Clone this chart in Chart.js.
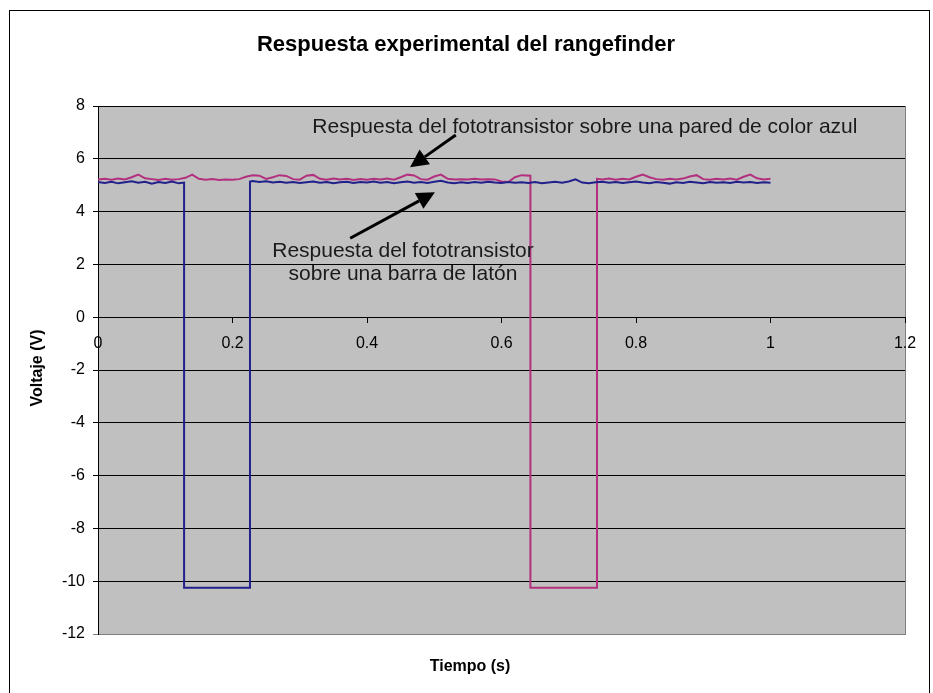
<!DOCTYPE html>
<html>
<head>
<meta charset="utf-8">
<script src="https://cdn.jsdelivr.net/npm/chart.js@4.4.1/dist/chart.umd.min.js"></script>
<style>
  html, body { margin: 0; padding: 0; background: #fff; }
</style>
</head>
<body>
<canvas id="chart" width="933" height="693"></canvas>
<script>
// Time (s) and voltage (V)
const blueTime = [
  0, 0.01, 0.02, 0.03, 0.04, 0.05, 0.06, 0.07, 0.08, 0.09, 0.10, 0.11, 0.12,
  0.128, 0.128, 0.226, 0.226,
  0.23, 0.24, 0.25, 0.26, 0.27, 0.28, 0.29, 0.30, 0.31, 0.32, 0.33, 0.34, 0.35, 0.36, 0.37, 0.38, 0.39,
  0.40, 0.41, 0.42, 0.43, 0.44, 0.45, 0.46, 0.47, 0.48, 0.49, 0.50, 0.51, 0.52, 0.53, 0.54, 0.55, 0.56,
  0.57, 0.58, 0.59, 0.60, 0.61, 0.62, 0.63, 0.64, 0.65, 0.66, 0.67, 0.68, 0.69, 0.70, 0.71, 0.72, 0.73,
  0.74, 0.75, 0.76, 0.77, 0.78, 0.79, 0.80, 0.81, 0.82, 0.83, 0.84, 0.85, 0.86, 0.87, 0.88, 0.89, 0.90,
  0.91, 0.92, 0.93, 0.94, 0.95, 0.96, 0.97, 0.98, 0.99, 1.00
];
const blueVolt = [
  5.12, 5.08, 5.13, 5.07, 5.11, 5.15, 5.09, 5.13, 5.06, 5.12, 5.08, 5.14, 5.07,
  5.10, -10.25, -10.25, 5.14,
  5.16, 5.12, 5.15, 5.10, 5.13, 5.09, 5.12, 5.08, 5.11, 5.14, 5.09, 5.12, 5.07, 5.11, 5.13, 5.08, 5.12,
  5.10, 5.14, 5.09, 5.12, 5.07, 5.11, 5.14, 5.09, 5.12, 5.08, 5.13, 5.17, 5.10, 5.07, 5.11, 5.08, 5.12,
  5.09, 5.13, 5.10, 5.08, 5.12, 5.09, 5.11, 5.08, 5.12, 5.07, 5.10, 5.13, 5.09, 5.14, 5.22, 5.10, 5.07,
  5.11, 5.13, 5.09, 5.12, 5.08, 5.11, 5.14, 5.10, 5.07, 5.12, 5.09, 5.06, 5.11, 5.08, 5.13, 5.10, 5.07,
  5.12, 5.09, 5.11, 5.08, 5.13, 5.10, 5.12, 5.08, 5.11, 5.09
];

const pinkTime = [
  0, 0.01, 0.02, 0.03, 0.04, 0.05, 0.06, 0.07, 0.08, 0.09, 0.10, 0.11, 0.12, 0.13, 0.14, 0.15, 0.16,
  0.17, 0.18, 0.19, 0.20, 0.21, 0.22, 0.23, 0.24, 0.25, 0.26, 0.27, 0.28, 0.29, 0.30, 0.31, 0.32, 0.33,
  0.34, 0.35, 0.36, 0.37, 0.38, 0.39, 0.40, 0.41, 0.42, 0.43, 0.44, 0.45, 0.46, 0.47, 0.48, 0.49, 0.50,
  0.51, 0.52, 0.53, 0.54, 0.55, 0.56, 0.57, 0.58, 0.59, 0.60, 0.61, 0.62, 0.63,
  0.643, 0.643, 0.742, 0.742,
  0.75, 0.76, 0.77, 0.78, 0.79, 0.80, 0.81, 0.82, 0.83, 0.84, 0.85, 0.86, 0.87, 0.88, 0.89, 0.90, 0.91,
  0.92, 0.93, 0.94, 0.95, 0.96, 0.97, 0.98, 0.99, 1.00
];
const pinkVolt = [
  5.22, 5.24, 5.21, 5.25, 5.22, 5.30, 5.40, 5.26, 5.23, 5.20, 5.24, 5.21, 5.23, 5.28, 5.40, 5.24, 5.21,
  5.23, 5.20, 5.22, 5.21, 5.23, 5.32, 5.38, 5.36, 5.24, 5.30, 5.38, 5.35, 5.23, 5.21, 5.36, 5.39, 5.24,
  5.21, 5.25, 5.22, 5.24, 5.20, 5.23, 5.21, 5.24, 5.22, 5.25, 5.21, 5.30, 5.40, 5.37, 5.23, 5.21, 5.33,
  5.40, 5.24, 5.22, 5.23, 5.22, 5.24, 5.22, 5.23, 5.22, 5.14, 5.12, 5.30, 5.38,
  5.36, -10.25, -10.25, 5.24,
  5.22, 5.25, 5.21, 5.24, 5.22, 5.32, 5.40, 5.30, 5.23, 5.21, 5.24, 5.22, 5.25, 5.33, 5.38, 5.23, 5.21,
  5.24, 5.22, 5.25, 5.21, 5.32, 5.40, 5.26, 5.22, 5.24
];

const xTickLabels = ['0', '0.2', '0.4', '0.6', '0.8', '1', '1.2'];
const yTickLabels = ['-12', '-10', '-8', '-6', '-4', '-2', '0', '2', '4', '6', '8'];

const FONT = "'Liberation Sans', Arial, sans-serif";

function toPoints(xs, ys) {
  return xs.map((x, i) => ({ x: x, y: ys[i] }));
}

// white page, outer frame and grey plot area
const framePlugin = {
  id: 'frame',
  beforeDraw(chart) {
    const { ctx, chartArea: a } = chart;
    ctx.save();
    ctx.fillStyle = '#fff';
    ctx.fillRect(0, 0, chart.width, chart.height);
    ctx.strokeStyle = '#000';
    ctx.lineWidth = 1;
    ctx.strokeRect(9.5, 10.5, 920, 700);
    ctx.fillStyle = '#c0c0c0';
    ctx.fillRect(a.left, a.top, a.right - a.left, a.bottom - a.top);
    ctx.strokeStyle = '#808080';
    ctx.strokeRect(a.left + 0.5, a.top + 0.5, a.right - a.left, a.bottom - a.top);
    ctx.restore();
  }
};

// title, axis titles, notes and arrows
const textPlugin = {
  id: 'texts',
  afterDraw(chart) {
    const { ctx } = chart;
    const xs = chart.scales.x, ys = chart.scales.y;
    const px = v => xs.getPixelForValue(v);
    const py = v => ys.getPixelForValue(v);

    ctx.save();
    ctx.fillStyle = '#000';
    ctx.textAlign = 'center';
    ctx.textBaseline = 'middle';

    ctx.font = 'bold 22px ' + FONT;
    ctx.fillText('Respuesta experimental del rangefinder', 466, 45);

    ctx.font = 'bold 16px ' + FONT;
    ctx.fillText('Tiempo (s)', 470, 667);
    ctx.save();
    ctx.translate(38, 368);
    ctx.rotate(-Math.PI / 2);
    ctx.fillText('Voltaje (V)', 0, 0);
    ctx.restore();

    ctx.fillStyle = '#1a1a1a';
    ctx.font = '21px ' + FONT;
    ctx.fillText('Respuesta del fototransistor sobre una pared de color azul', px(0.724), py(7.2));
    ctx.fillText('Respuesta del fototransistor', px(0.4535), py(2.5));
    ctx.fillText('sobre una barra de latón', px(0.4535), py(1.63));

    const arrow = (x1, y1, x2, y2) => {
      const sx = px(x1), sy = py(y1), tx = px(x2), ty = py(y2);
      const ang = Math.atan2(ty - sy, tx - sx);
      const len = 18, half = 9;
      const bx = tx - len * Math.cos(ang), by = ty - len * Math.sin(ang);
      ctx.strokeStyle = '#000';
      ctx.lineWidth = 3;
      ctx.beginPath();
      ctx.moveTo(sx, sy);
      ctx.lineTo(bx, by);
      ctx.stroke();
      ctx.fillStyle = '#000';
      ctx.beginPath();
      ctx.moveTo(tx, ty);
      ctx.lineTo(bx + half * Math.sin(ang), by - half * Math.cos(ang));
      ctx.lineTo(bx - half * Math.sin(ang), by + half * Math.cos(ang));
      ctx.closePath();
      ctx.fill();
    };
    arrow(0.532, 6.9, 0.464, 5.68);
    arrow(0.375, 2.99, 0.501, 4.73);
    ctx.restore();
  }
};

new Chart(document.getElementById('chart'), {
  type: 'scatter',
  data: {
    datasets: [
      {
        label: 'Barra de latón',
        data: toPoints(blueTime, blueVolt),
        showLine: true,
        borderColor: '#22208a',
        borderWidth: 2,
        pointRadius: 0,
        tension: 0
      },
      {
        label: 'Pared azul',
        data: toPoints(pinkTime, pinkVolt),
        showLine: true,
        borderColor: '#b3307f',
        borderWidth: 2,
        pointRadius: 0,
        tension: 0
      }
    ]
  },
  options: {
    responsive: false,
    animation: false,
    layout: { padding: { left: 28, top: 106, right: 28, bottom: 59 } },
    plugins: {
      legend: { display: false },
      tooltip: { enabled: false },
      title: { display: false }
    },
    scales: {
      x: {
        type: 'linear',
        position: { y: 0 },
        min: 0,
        max: 1.2,
        grid: { drawOnChartArea: false, color: '#000', tickLength: 5 },
        border: { color: '#000', width: 1 },
        ticks: {
          stepSize: 0.2,
          autoSkip: false,
          maxRotation: 0,
          padding: 12,
          color: '#000',
          font: { family: FONT, size: 16 },
          callback: (v, i) => xTickLabels[i]
        }
      },
      y: {
        type: 'linear',
        position: 'left',
        min: -12,
        max: 8,
        afterFit: s => { s.width = 70; },
        grid: {
          color: ctx => (ctx.tick && ctx.tick.value === -12 ? '#808080' : '#000'),
          tickLength: 5
        },
        border: { color: '#000', width: 1 },
        ticks: {
          stepSize: 2,
          padding: 8,
          color: '#000',
          font: { family: FONT, size: 16 },
          callback: (v, i) => yTickLabels[i]
        }
      }
    }
  },
  plugins: [framePlugin, textPlugin]
});
</script>
</body>
</html>
